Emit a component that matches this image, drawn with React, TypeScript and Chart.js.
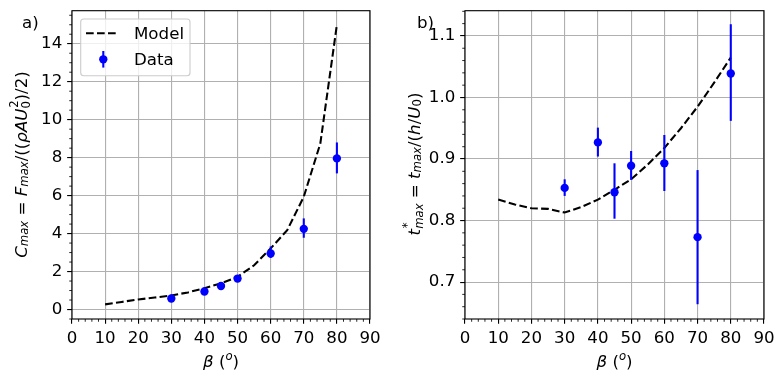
import React, { useEffect, useRef } from "react";
import { Chart, registerables } from "chart.js";
Chart.register(...registerables);

const FONT = "'DejaVu Sans', sans-serif";
const PX = 100 / 72;
const FS = 12 * PX;
const LW = 1.5 * PX;
const MS = 3 * PX;
const TICK_MAJOR = 3.5 * PX;
const TICK_MINOR = 2 * PX;
const GRID_LW = 0.8 * PX;
const BLUE = "#0000ff";

// ---- data ----
const betaModel = [10, 15, 20, 25, 30, 35, 40, 45, 50, 55, 60, 65, 70, 75, 80];
const cmaxModel = [0.27, 0.4, 0.53, 0.63, 0.74, 0.9, 1.12, 1.38, 1.72, 2.33, 3.22, 4.18, 5.94, 8.75, 15.0];
const tstarModel = [0.834, 0.826, 0.82, 0.819, 0.813, 0.822, 0.834, 0.85, 0.867, 0.891, 0.918, 0.95, 0.985, 1.024, 1.065];

const betaData = [30, 40, 45, 50, 60, 70, 80];
const cmaxData = [0.58, 0.95, 1.24, 1.63, 2.95, 4.25, 7.96];
const cmaxLow = [0.53, 0.9, 1.19, 1.58, 2.72, 3.78, 7.17];
const cmaxHigh = [0.63, 1.0, 1.29, 1.68, 3.32, 4.8, 8.8];
const tstarData = [0.853, 0.927, 0.846, 0.889, 0.893, 0.773, 1.039];
const tstarLow = [0.84, 0.904, 0.803, 0.866, 0.848, 0.664, 0.962];
const tstarHigh = [0.867, 0.951, 0.893, 0.913, 0.939, 0.882, 1.119];

const xMin = 0, xMax = 90, xStep = 10;
const cmaxMin = -0.5, cmaxMax = 15.74, cmaxStep = 2;
const tstarMin = 0.64, tstarMax = 1.141, tstarStep = 0.1;

type Seg = { t: string; it?: boolean; sub?: string; sup?: string; subIt?: boolean; supIt?: boolean };

const xLabel: Seg[] = [{ t: "β", it: true }, { t: " (" }, { t: "", sup: "o", supIt: true }, { t: ")" }];
const cmaxLabel: Seg[] = [
  { t: "C", it: true, sub: "max", subIt: true },
  { t: " = " },
  { t: "F", it: true, sub: "max", subIt: true },
  { t: "/((" },
  { t: "ρAU", it: true, sub: "0", sup: "2", subIt: false, supIt: false },
  { t: ")/2)" },
];
const tstarLabel: Seg[] = [
  { t: "t", it: true, sub: "max", sup: "*", subIt: true, supIt: false },
  { t: " = " },
  { t: "t", it: true, sub: "max", subIt: true },
  { t: "/(" },
  { t: "h", it: true },
  { t: "/" },
  { t: "U", it: true, sub: "0", subIt: false },
  { t: ")" },
];

function fnt(size: number, it?: boolean) {
  return `${it ? "italic " : ""}${size}px ${FONT}`;
}
function scriptGap(s: Seg, size: number) {
  return s.it && s.t ? size * 0.04 : 0;
}
function segsWidth(ctx: CanvasRenderingContext2D, segs: Seg[], size: number) {
  let w = 0;
  for (const s of segs) {
    ctx.font = fnt(size, s.it);
    w += ctx.measureText(s.t).width;
    let sw = 0;
    if (s.sub) { ctx.font = fnt(size * 0.7, s.subIt); sw = Math.max(sw, ctx.measureText(s.sub).width); }
    if (s.sup) { ctx.font = fnt(size * 0.7, s.supIt); sw = Math.max(sw, ctx.measureText(s.sup).width + scriptGap(s, size)); }
    w += sw;
  }
  return w;
}
function drawSegs(ctx: CanvasRenderingContext2D, segs: Seg[], x: number, y: number, size: number) {
  ctx.textBaseline = "alphabetic";
  ctx.textAlign = "left";
  ctx.fillStyle = "#000";
  for (const s of segs) {
    ctx.font = fnt(size, s.it);
    ctx.fillText(s.t, x, y);
    x += ctx.measureText(s.t).width;
    let sw = 0;
    const both = !!(s.sub && s.sup);
    if (s.sub) {
      ctx.font = fnt(size * 0.7, s.subIt);
      ctx.fillText(s.sub, x, y + size * (both ? 0.2 : 0.08));
      sw = Math.max(sw, ctx.measureText(s.sub).width);
    }
    if (s.sup) {
      ctx.font = fnt(size * 0.7, s.supIt);
      const g = scriptGap(s, size);
      ctx.fillText(s.sup, x + g, y - size * (both ? 0.5 : 0.42));
      sw = Math.max(sw, ctx.measureText(s.sup).width + g);
    }
    x += sw;
  }
}
function drawMath(ctx: CanvasRenderingContext2D, segs: Seg[], cx: number, baseline: number, rotated: boolean) {
  ctx.save();
  const w = segsWidth(ctx, segs, FS);
  if (rotated) {
    ctx.translate(baseline, cx);
    ctx.rotate(-Math.PI / 2);
    drawSegs(ctx, segs, -w / 2, 0, FS);
  } else {
    drawSegs(ctx, segs, cx - w / 2, baseline, FS);
  }
  ctx.restore();
}

type DecorOpts = {
  lows: number[]; highs: number[]; xs: number[];
  yMinor: number; yMajorEvery: number;
  panel: string; panelX: number; panelY: number;
  yLabel: Seg[]; yLabelBase: number; yLabelCenter: number;
  legend: boolean;
};

function makeDecor(o: DecorOpts) {
  return {
    id: "decor",
    beforeDatasetDraw(chart: any, args: any) {
      if (args.index !== 0) return;
      const ctx = chart.ctx as CanvasRenderingContext2D;
      const xs = chart.scales.x, ys = chart.scales.y;
      ctx.save();
      ctx.strokeStyle = BLUE;
      ctx.lineWidth = LW;
      for (let i = 0; i < o.xs.length; i++) {
        const px = xs.getPixelForValue(o.xs[i]);
        ctx.beginPath();
        ctx.moveTo(px, ys.getPixelForValue(o.lows[i]));
        ctx.lineTo(px, ys.getPixelForValue(o.highs[i]));
        ctx.stroke();
      }
      ctx.restore();
    },
    afterDatasetsDraw(chart: any) {
      const ctx = chart.ctx as CanvasRenderingContext2D;
      const a = chart.chartArea;
      const xs = chart.scales.x, ys = chart.scales.y;
      ctx.save();
      ctx.strokeStyle = "#000";
      ctx.lineWidth = GRID_LW;
      ctx.strokeRect(a.left, a.top, a.right - a.left, a.bottom - a.top);
      ctx.lineWidth = 0.6 * PX;
      ctx.beginPath();
      for (let i = Math.ceil(xs.min / 2); i <= Math.floor(xs.max / 2); i++) {
        if (i % 5 === 0) continue;
        const px = xs.getPixelForValue(i * 2);
        ctx.moveTo(px, a.bottom);
        ctx.lineTo(px, a.bottom + TICK_MINOR);
      }
      for (let i = Math.ceil(ys.min / o.yMinor - 1e-6); i <= Math.floor(ys.max / o.yMinor + 1e-6); i++) {
        if (i % o.yMajorEvery === 0) continue;
        const py = ys.getPixelForValue(i * o.yMinor);
        ctx.moveTo(a.left - TICK_MINOR, py);
        ctx.lineTo(a.left, py);
      }
      ctx.stroke();
      ctx.restore();
    },
    afterDraw(chart: any) {
      const ctx = chart.ctx as CanvasRenderingContext2D;
      const a = chart.chartArea;
      ctx.save();
      ctx.font = fnt(FS);
      ctx.fillStyle = "#000";
      ctx.textBaseline = "alphabetic";
      ctx.textAlign = "left";
      ctx.fillText(o.panel, o.panelX, o.panelY);
      drawMath(ctx, xLabel, (a.left + a.right) / 2, 366.5, false);
      drawMath(ctx, o.yLabel, o.yLabelCenter, o.yLabelBase, true);
      if (o.legend) {
        const lx = 80.7, ly = 19, lw = 109.3, lh = 56.7, r = 3;
        ctx.beginPath();
        ctx.roundRect(lx, ly, lw, lh, r);
        ctx.fillStyle = "rgba(255,255,255,0.8)";
        ctx.fill();
        ctx.strokeStyle = "#cccccc";
        ctx.lineWidth = 1.1;
        ctx.stroke();
        ctx.beginPath();
        ctx.setLineDash([7.7, 3.3]);
        ctx.strokeStyle = "#000";
        ctx.lineWidth = LW;
        ctx.moveTo(86, 33.3);
        ctx.lineTo(116.7, 33.3);
        ctx.stroke();
        ctx.setLineDash([]);
        ctx.beginPath();
        ctx.strokeStyle = BLUE;
        ctx.moveTo(103.3, 51);
        ctx.lineTo(103.3, 67.6);
        ctx.stroke();
        ctx.beginPath();
        ctx.fillStyle = BLUE;
        ctx.arc(103.3, 59.3, MS, 0, Math.PI * 2);
        ctx.fill();
        ctx.fillStyle = "#000";
        ctx.font = fnt(FS);
        ctx.fillText("Model", 134, 39.4);
        ctx.fillText("Data", 134, 65.4);
      }
      ctx.restore();
    },
  };
}

function makeConfig(
  model: number[], data: number[], yMin: number, yMax: number, yStep: number,
  yWidth: number, padRight: number, decor: any, fmt?: (v: number) => string
): any {
  const tickFont = { family: FONT, size: FS };
  return {
    type: "scatter",
    data: {
      datasets: [
        {
          label: "Data",
          data: betaData.map((x, i) => ({ x, y: data[i] })),
          backgroundColor: BLUE,
          borderColor: BLUE,
          pointRadius: MS,
          pointBorderWidth: 0,
          showLine: false,
          order: 0,
        },
        {
          label: "Model",
          type: "line",
          data: betaModel.map((x, i) => ({ x, y: model[i] })),
          borderColor: "#000",
          borderWidth: LW,
          borderDash: [7.7, 3.3],
          pointRadius: 0,
          fill: false,
          tension: 0,
          order: 1,
        },
      ],
    },
    options: {
      responsive: false,
      animation: false,
      devicePixelRatio: 1,
      layout: { autoPadding: false, padding: { left: 0, right: padRight, top: 10.7, bottom: 0 } },
      plugins: { legend: { display: false }, tooltip: { enabled: false } },
      scales: {
        x: {
          type: "linear",
          min: xMin,
          max: xMax,
          afterFit: (s: any) => { s.height = 65; s.paddingLeft = 0; s.paddingRight = 0; },
          ticks: { stepSize: xStep, autoSkip: false, maxRotation: 0, includeBounds: false, color: "#000", font: tickFont, padding: TICK_MAJOR },
          grid: { color: "#b0b0b0", lineWidth: GRID_LW, tickColor: "#000", tickLength: TICK_MAJOR, tickWidth: GRID_LW },
          border: { display: false },
        },
        y: {
          type: "linear",
          min: yMin,
          max: yMax,
          afterFit: (s: any) => { s.width = yWidth; s.paddingTop = 0; s.paddingBottom = 0; },
          ticks: {
            stepSize: yStep, autoSkip: false, includeBounds: false, color: "#000", font: tickFont, padding: TICK_MAJOR,
            callback: fmt ? (v: any) => fmt(Number(v)) : undefined,
          },
          grid: { color: "#b0b0b0", lineWidth: GRID_LW, tickColor: "#000", tickLength: TICK_MAJOR, tickWidth: GRID_LW },
          border: { display: false },
        },
      },
    },
    plugins: [decor],
  };
}

export default function App() {
  const leftRef = useRef<HTMLCanvasElement>(null);
  const rightRef = useRef<HTMLCanvasElement>(null);
  useEffect(() => {
    const left = new Chart(
      leftRef.current!,
      makeConfig(
        cmaxModel, cmaxData, cmaxMin, cmaxMax, cmaxStep, 72, 22,
        makeDecor({
          lows: cmaxLow, highs: cmaxHigh, xs: betaData, yMinor: 0.5, yMajorEvery: 4,
          panel: "a)", panelX: 22, panelY: 27.5,
          yLabel: cmaxLabel, yLabelBase: 26.7, yLabelCenter: 164.5, legend: true,
        })
      )
    );
    const right = new Chart(
      rightRef.current!,
      makeConfig(
        tstarModel, tstarData, tstarMin, tstarMax, tstarStep, 73, 20,
        makeDecor({
          lows: tstarLow, highs: tstarHigh, xs: betaData, yMinor: 0.02, yMajorEvery: 5,
          panel: "b)", panelX: 25, panelY: 28,
          yLabel: tstarLabel, yLabelBase: 27.5, yLabelCenter: 164, legend: false,
        }),
        (v) => v.toFixed(1)
      )
    );
    return () => { left.destroy(); right.destroy(); };
  }, []);
  return (
    <div style={{ position: "absolute", left: 0, top: 0, width: 784, height: 384, display: "flex", background: "#fff" }}>
      <canvas ref={leftRef} width={392} height={384} style={{ width: 392, height: 384 }} />
      <canvas ref={rightRef} width={392} height={384} style={{ width: 392, height: 384 }} />
    </div>
  );
}
